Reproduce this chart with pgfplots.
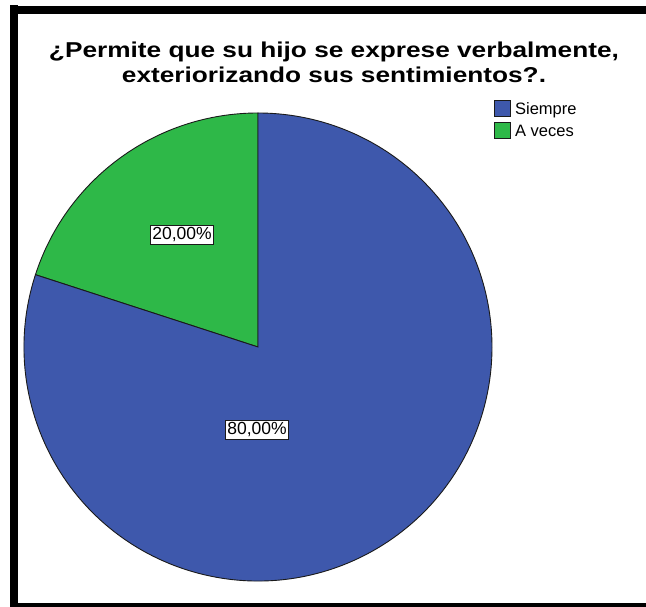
\documentclass[border=0pt]{standalone}
\usepackage{fontspec}
\setmainfont{Liberation Sans}
\usepackage{pgfplots}
\usepackage{pgfplotstable}
\pgfplotsset{compat=1.18}
\definecolor{spBlue}{HTML}{3E58AC}
\definecolor{spGreen}{HTML}{2EB848}
\definecolor{spEdge}{HTML}{1A1A1A}

\pgfplotstableread{
label value
Siempre 80
Aveces 20
}\piedata

\begin{document}
\begin{tikzpicture}
\begin{axis}[
  at={(0,0)}, anchor=south west,
  scale only axis, width=646pt, height=607pt,
  xmin=0, xmax=646, ymin=0, ymax=607,
  hide axis, clip=false,
  legend style={at={(axis cs:493,508)}, anchor=north west, draw=none,
                fill=none, font=\fontsize{16.5}{19}\selectfont,
                row sep=4.5pt, inner sep=1pt,
                nodes={inner xsep=4pt}},
  legend cell align=left,
  legend image code/.code={\draw[#1,draw=spEdge,line width=0.9pt] (0pt,-7.5pt) rectangle (16pt,8.5pt);}
]
% frame
\fill[black] (axis cs:10,0) rectangle (axis cs:18,602);
\fill[black] (axis cs:10,593) rectangle (axis cs:646,601);
\fill[black] (axis cs:10,0) rectangle (axis cs:646,4);
% title
\node[font=\bfseries\fontsize{21.5}{25}\selectfont, anchor=base, xscale=1.22]
  at (axis cs:334,549) {¿Permite que su hijo se exprese verbalmente,};
\node[font=\bfseries\fontsize{21.5}{25}\selectfont, anchor=base, xscale=1.22]
  at (axis cs:334,524) {exteriorizando sus sentimientos?.};
% pie slices from the table
\pgfplotstablegetelem{0}{value}\of\piedata \let\vA\pgfplotsretval
\pgfplotstablegetelem{1}{value}\of\piedata \let\vB\pgfplotsretval
\pgfmathsetmacro{\aB}{90+3.6*\vB}
\pgfmathsetmacro{\aA}{\aB+3.6*\vA}
\filldraw[fill=spGreen, draw=spEdge, line width=0.9pt]
  (axis cs:258,260) -- ++(90:234pt) arc[start angle=90, end angle=\aB, radius=234pt] -- cycle;
\filldraw[fill=spBlue, draw=spEdge, line width=0.9pt]
  (axis cs:258,260) -- ++(\aB:234pt) arc[start angle=\aB, end angle=\aA, radius=234pt] -- cycle;
\addlegendimage{fill=spBlue}
\addlegendentry{Siempre}
\addlegendimage{fill=spGreen}
\addlegendentry{A veces}
% value labels
\node[draw=spEdge, fill=white, inner sep=2pt, line width=0.9pt,
      font=\fontsize{17.5}{19}\selectfont] at (axis cs:182,372) {20,00\%};
\node[draw=spEdge, fill=white, inner sep=2pt, line width=0.9pt,
      font=\fontsize{17.5}{19}\selectfont] at (axis cs:257,177) {80,00\%};
\end{axis}
\pgfresetboundingbox
\path (0,0) rectangle (646pt,607pt);
\end{tikzpicture}
\end{document}
